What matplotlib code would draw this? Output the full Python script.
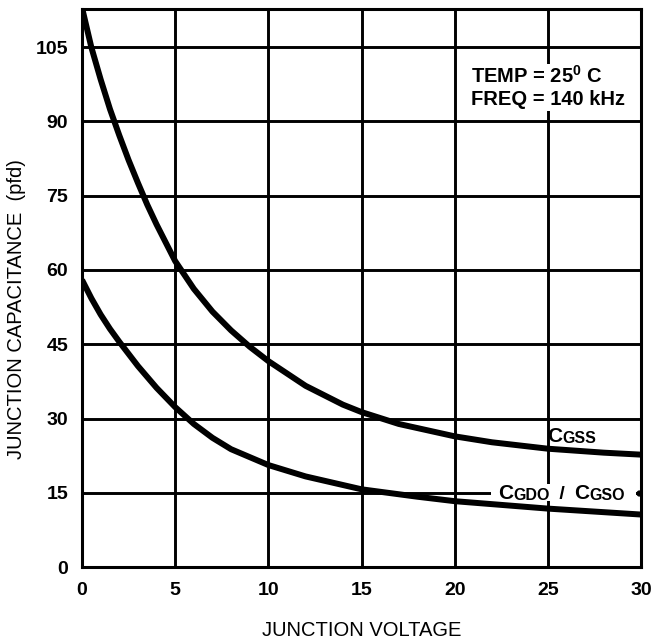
import numpy as np
import matplotlib
matplotlib.use("Agg")
import matplotlib.pyplot as plt
from matplotlib.patches import Rectangle

# junction capacitance vs junction voltage
v_gss = [0, 0.5, 1, 1.5, 2, 2.5, 3, 3.5, 4, 5, 6, 7, 8, 9, 10, 12, 14, 15, 17, 20, 22, 25, 28, 30]
c_gss = [113, 105, 98.5, 92.5, 87.2, 82.2, 77.6, 73.2, 69.2, 61.8, 56.2, 51.6, 47.8, 44.5, 41.6,
         36.6, 32.8, 31.3, 28.9, 26.4, 25.2, 23.9, 23.1, 22.7]

v_gdo = [0, 0.5, 1, 1.5, 2, 3, 4, 5, 6, 7, 8, 10, 12, 15, 18, 20, 25, 30]
c_gdo = [58, 54.3, 51, 48.1, 45.5, 40.6, 36.2, 32.3, 28.9, 26.1, 23.8, 20.6, 18.3, 15.7, 14.2, 13.3, 11.8, 10.6]

x_ticks = [0, 5, 10, 15, 20, 25, 30]
y_ticks = [0, 15, 30, 45, 60, 75, 90, 105]

plt.rcParams['font.family'] = ['Liberation Sans', 'DejaVu Sans']
plt.rcParams['mathtext.fontset'] = 'custom'
plt.rcParams['mathtext.rm'] = 'Liberation Sans'
plt.rcParams['mathtext.bf'] = 'Liberation Sans:bold'

fig = plt.figure(figsize=(6.53, 6.42), dpi=100)
ax = fig.add_axes([0.1256, 0.1168, 0.856, 0.869])

ax.plot(v_gss, c_gss, color='black', lw=4.3, solid_capstyle='butt', solid_joinstyle='round', zorder=2)
ax.plot(v_gdo, c_gdo, color='black', lw=4.3, solid_capstyle='butt', solid_joinstyle='round', zorder=2)

ax.set_xlim(0, 30)
ax.set_ylim(0, 112.7)
ax.set_xticks(x_ticks)
ax.set_yticks(y_ticks)
ax.tick_params(length=0, labelsize=14)
ax.tick_params(axis='y', pad=10)
ax.tick_params(axis='x', pad=10.5)
for lab in ax.get_xticklabels() + ax.get_yticklabels():
    lab.set_fontweight('bold')
ax.grid(True, color='black', lw=2.1)
ax.set_axisbelow(True)
for s in ax.spines.values():
    s.set_linewidth(2.2)

fig.text(362 / 653, 1 - 630 / 642, 'JUNCTION VOLTAGE', ha='center', va='center', fontsize=14.5)
fig.text(17 / 653, 1 - 309 / 642, 'JUNCTION CAPACITANCE  (pfd)', ha='center', va='center',
         rotation=90, fontsize=14.5)

ax.text(20.9, 96.9, 'TEMP = 25$^{\\mathbf{0}}$ C\nFREQ = 140 kHz', fontsize=14.5, fontweight='bold',
        va='center', ha='left', linespacing=1.2,
        bbox=dict(facecolor='white', edgecolor='none', pad=1), zorder=4)


def caps_label(x, y, parts):
    # big "C" followed by small capitals, chained one after another
    prev = None
    for txt, size, gap in parts:
        kw = dict(fontsize=size, fontweight='bold', va='bottom', ha='left', zorder=4)
        if prev is None:
            prev = ax.text(x, y, txt, **kw)
        else:
            prev = ax.annotate(txt, xy=(1, 0), xycoords=prev, xytext=(gap, 0),
                               textcoords='offset points', **kw)


caps_label(24.95, 24.5, [('C', 15, 0), ('GSS', 11.5, 0)])
# white gap in the 15 grid line behind the second label
ax.add_patch(Rectangle((21.95, 13.4), 7.8, 3.3, facecolor='white', edgecolor='none', zorder=3))
caps_label(22.35, 12.9, [('C', 15, 0), ('GDO', 11.5, 0), (' / ', 14, 3), ('C', 15, 3), ('GSO', 11.5, 0)])
ax.plot([29.88], [15], marker='o', ms=3.5, color='black', zorder=5)

fig.savefig('out.png', dpi=100)
